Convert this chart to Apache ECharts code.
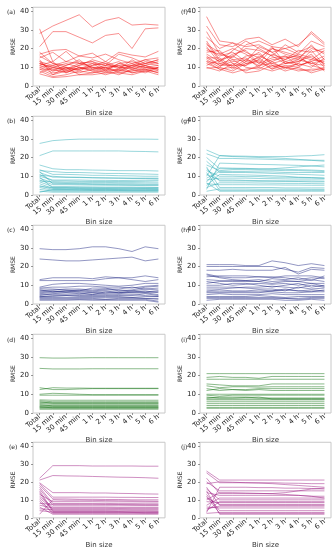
<!DOCTYPE html>
<html><head><meta charset="utf-8">
<script src="https://cdn.jsdelivr.net/npm/echarts@6/dist/echarts.min.js"></script>
<style>html,body{margin:0;padding:0;background:#fff}#c{width:334px;height:550px}</style>
</head><body><div id="c"></div>
<script>
const categories = ['Total','15 min','30 min','45 min','1 h','2 h','3 h','4 h','5 h','6 h'];
const yTicks = [0,10,20,30,40];
const panelLabels = ['(a)','(b)','(c)','(d)','(e)','(f)','(g)','(h)','(i)','(j)'];

const rmseA = [
 [28,32,35,38,31.5,35,36.5,32.5,33,32.5],
 [21,29,29,26,23,27,28,20,30.5,31],
 [30.5,13,18.5,12,13,11,17,15,12,14],
 [17,19,19.5,16,17.5,13,18,16.5,15.5,18.5],
 [15,18,13,16,15,17,14,12,14,15],
 [13,11,9,12,13,9,12,10,13,12],
 [12,10,12,10,9,11,10,9,11,13],
 [11,8,9,11,12,8,9,11,10,9],
 [10,7,8,9,10,9,8,10,8,8],
 [9,9,7,10,8,10,7,8,10,11],
 [14,6,8,7,9,7,9,7,9,7],
 [8,5,6,8,7,8,6,9,7,10],
 [6.5,4.5,5,6,6,7,7,6,8,6],
 [12,9,10,8,11,12,10,12,9,10],
 [16,12,11,13,10,10,11,11,12,11],
 [10,11,13,12,10,8,12,13,11,9],
 [7,10,9,9,11,13,10,10,12,14],
 [11,13,7,10,8,6,8,8,9,7],
 [18,12,10,9,12,11,13,9,11,8],
 [13,8,11,14,9,10,8,11,14,12],
 [9,6,10,6,7,9,11,7,8,10],
 [12,10,8,11,14,12,9,14,10,9]
];
const rmseB = [
 [27.5,29,29.5,29.8,29.8,29.8,29.8,29.8,29.8,29.7],
 [21,23.5,23.5,23.5,23.5,23.5,23.5,23.3,23.2,23],
 [16,14,13.5,13.5,13.3,13.2,13,13,13,12.8],
 [13.5,11,11,10.8,10.5,10.5,10.3,10.2,10,10],
 [13,12.5,12,12,11.8,11.5,11.5,11.3,11.2,11],
 [12,9.5,9.5,9.3,9.2,9,9,8.8,8.8,8.7],
 [11,7.5,7.5,7.3,7.2,7.2,7.2,7.2,7.3,7.5],
 [10,8,8,8,7.8,7.8,7.7,7.8,7.9,8],
 [9,6.5,6.3,6.2,6,6,6,6,5.8,5.8],
 [8,5.5,5.5,5.4,5.3,5.2,5.2,5.1,5,5],
 [7,4.5,4.5,4.4,4.3,4.2,4.2,4.2,4.1,4],
 [6,3.5,3.4,3.4,3.3,3.3,3.2,3.2,3.2,3.1],
 [5,3,3,3,2.9,2.9,2.9,2.8,2.8,2.8],
 [4,2.5,2.5,2.5,2.4,2.4,2.4,2.3,2.3,2.3],
 [3,2,2,2,2,2,2,2,2,2],
 [2,1.5,1.5,1.5,1.5,1.5,1.5,1.5,1.5,1.5],
 [12.5,6,6,5.8,5.7,5.6,5.5,5.5,5.4,5.4],
 [10.5,10,9.5,9.5,9.2,9.2,9,9,9,9],
 [9.5,3.8,3.8,3.7,3.6,3.6,3.6,3.6,3.5,3.5],
 [7.5,7,6.8,6.8,6.7,6.7,6.6,6.6,6.5,6.5],
 [1.5,2.8,2.8,2.7,2.7,2.7,2.6,2.6,2.6,2.6],
 [4.5,4,4,3.9,3.9,3.8,3.8,3.8,3.8,3.8]
];
const rmseC = [
 [29.5,29,29,29.5,30.5,30.5,29.5,28,30.5,29.5],
 [24,23.5,23,23,23.5,24,24.5,25,23,24],
 [13,14,14,14,13.5,14.5,14,14,15,14],
 [12.5,12.5,12.5,12.5,12.5,13.5,14,13,12,13],
 [9,10.5,11,11,10.5,10,9.5,10,11,11],
 [8.5,9,9,9.5,9.5,9,9,8.5,9.5,10],
 [7,7.5,8,8,7.5,8,8,9,8,7.5],
 [6.5,7,6.5,7,6.5,7,6,7,6.5,7],
 [5.5,6,6,5.5,6,5.5,5.5,6,6,5],
 [5,5,5,4.5,5,5,4.5,5,4.5,4],
 [4,4,4.5,4,4,4,4,3.5,4,4],
 [3.5,3.5,3.5,3.5,3.5,3.5,3.5,3.5,3,3],
 [3,3,3,3,3,2.5,3,3,3,2.5],
 [2.5,2.5,2.5,2.5,2.5,2.5,2.5,2.5,2.5,1.5],
 [4.5,5.5,6,6,5,6.5,6,6.5,7,6],
 [6,6.5,7,7.5,7,7.5,7.5,7,8,8.5],
 [2,2,2,2.2,2,2,2,2,2,1],
 [8,8,7.5,7,8.5,8.5,7,7.5,9,9.5],
 [3.8,4.5,4.5,5,4.5,4.5,5,4.5,5.5,4.5],
 [7.5,6.5,7,6.5,6,6,6.5,6,6,6.5]
];
const rmseD = [
 [29.5,29.3,29.3,29.4,29.5,29.5,29.5,29.5,29.5,29.5],
 [23.8,23.5,23.5,23.5,23.6,23.6,23.6,23.6,23.6,23.6],
 [13.5,12.5,12.5,12.8,13,13,13,13,13,13],
 [12.5,13.5,13.3,13.3,13.2,13.2,13.2,13.2,13.2,13.2],
 [10,10.5,10.3,10,9.8,9.8,9.8,9.8,9.8,9.8],
 [9.5,9.5,9.5,9.5,9.5,9.5,9.5,9.5,9.5,9.5],
 [7,6.8,6.8,6.8,6.8,6.8,6.8,6.8,6.8,6.8],
 [6.5,6,6,6,6,6,6,6,6,6],
 [5.5,5.5,5.5,5.5,5.5,5.5,5.5,5.5,5.5,5.5],
 [5,4.8,4.8,4.8,4.8,4.8,4.8,4.8,4.8,4.8],
 [4,4.2,4.2,4.2,4.2,4.2,4.2,4.2,4.2,4.2],
 [3.5,3.5,3.5,3.5,3.5,3.5,3.5,3.5,3.5,3.5],
 [3,3,3,3,3,3,3,3,3,3],
 [2.5,2.5,2.5,2.5,2.5,2.5,2.5,2.5,2.5,2.5],
 [2,2,2,2,2,2,2,2,2,2],
 [4.5,3.8,3.8,3.8,3.8,3.8,3.8,3.8,3.8,3.8],
 [6,5.2,5.2,5.2,5.2,5.2,5.2,5.2,5.2,5.2],
 [3.2,2.8,2.8,2.8,2.8,2.8,2.8,2.8,2.8,2.8]
];
const rmseE = [
 [22,29,29,29,28.8,28.8,28.8,28.8,28.7,28.7],
 [21,23.5,23.3,23.2,23,22.8,22.6,22.5,22.3,22],
 [19.5,14,14,14,13.8,13.8,13.6,13.5,13.3,13.2],
 [19,11.5,11.5,11.5,11.5,11.5,11.4,11.4,11.3,11.3],
 [18,10.5,10.5,10.3,10.3,10.2,10.2,10,10,10],
 [17,8,8,8,8,8,7.9,7.9,7.8,7.8],
 [16,7,7,7,7,7,7,6.9,6.9,6.9],
 [15,4,4,4,4,4,3.9,3.9,3.9,3.8],
 [14,3.5,3.5,3.5,3.5,3.5,3.5,3.4,3.4,3.4],
 [13,9,9,9,9,8.9,8.9,8.9,8.8,8.8],
 [12,6,6,6,6,6,5.9,5.9,5.9,5.9],
 [11,5,5,5,5,5,5,4.9,4.9,4.9],
 [10,3,3,3,3,3,3,3,2.9,2.9],
 [9,2.5,2.5,2.5,2.5,2.5,2.5,2.5,2.4,2.4],
 [8,7.5,7.5,7.5,7.5,7.4,7.4,7.4,7.3,7.3],
 [7,5.5,5.5,5.5,5.5,5.5,5.4,5.4,5.4,5.4],
 [6,2,2,2,2,2,2,2,2,2],
 [5,4.5,4.5,4.5,4.5,4.5,4.5,4.4,4.4,4.4],
 [4,3.2,3.2,3.2,3.2,3.2,3.2,3.1,3.1,3.1],
 [2,10,9.8,9.8,9.7,9.6,9.5,9.4,9.3,9.2]
];
const rmseF = [
 [37,24,23,21,22,18,20,17,24,21],
 [32,22,21,25,26,22,25,21,29,23],
 [29,17,15,22,24,21,20,22,28,22],
 [26,20,23,18,15,20,17,15,20,18],
 [24,14,16,20,19,16,22,18,21,17],
 [21,12,11,16,17,12,14,17,15,12],
 [20,16,18,13,21,18,13,11,13,16],
 [18,19,12,11,14,21,12,13,17,10],
 [17,13,17,19,12,15,16,14,12,14],
 [16,11,13,14,18,11,10,12,19,11],
 [15,15,10,8,11,14,15,16,11,9],
 [14,10,8,12,13,9,11,10,14,13],
 [13,12,14,10,9,13,9,12,10,15],
 [12,9,7,9,10,8,10,9,8,10],
 [11,14,9,13,15,10,12,13,16,12],
 [10,8,12,7,8,11,8,10,7,9],
 [19,17,20,17,12,20,18,16,14,19],
 [22,18,14,15,10,17,14,19,18,20],
 [15,11,11,11,16,13,16,11,13,8],
 [9.5,10,16,12,14,9,13,15,12,11],
 [23,13,19,24,20,16,12,14,22,14],
 [13,9,10,14,11,12,10,8,9,9]
];
const rmseG = [
 [24,21,20.8,20.7,20.5,20.5,20.5,20.8,21,21.5],
 [22,19.5,19.5,19.3,19.2,19,18.8,18.7,18.6,18.5],
 [20,14,14,14,13.8,14,14.5,15,15.5,16],
 [18,12,12,12,11.8,11.5,11.3,11,10.8,10.5],
 [16,13,13.5,13.5,13.3,13.2,13,13,12.8,12.5],
 [15,4,4,4,4,4,3.8,3.8,3.8,3.8],
 [14,7.5,7.5,7.5,7.3,7.3,7.2,7.2,7,7],
 [13,10,10,9.8,9.8,9.5,9.5,9.3,9.2,9],
 [12,2.5,2.5,2.5,2.5,2.5,2.5,2.5,2.5,2.5],
 [10,21,20.5,20.3,20,19.8,19.5,19,18.5,18],
 [8,9,9,9,8.8,8.7,8.6,8.5,8.5,8.5],
 [7,14.5,14.3,14.2,14,13.8,13.7,13.5,13.3,13],
 [6,5.5,5.5,5.5,5.4,5.4,5.3,5.3,5.2,5.2],
 [5,11,10.8,10.7,10.5,10.3,10,9.5,9.3,9],
 [4,6.5,6.5,6.5,6.4,6.3,6.2,6.2,6.1,6],
 [3,17,16.8,16.5,16.3,16.2,16,15.8,15.5,15],
 [2,3.2,3.2,3.2,3.1,3.1,3.1,3.1,3,3],
 [11,8,8,7.8,7.7,7.6,7.6,7.5,7.5,7.4],
 [9,12.5,12.5,12.5,12.3,12.3,12,12,12,12],
 [6.5,2,2,2,2,2,2,2,2,2]
];
const rmseH = [
 [21,21,21,20.5,20.5,23,22,20.5,21.5,20.5],
 [20,20,20,20,20,20,18.5,17,19.5,19],
 [18,18,18.5,18,18,18,19.5,16,18.5,18],
 [15.5,14,13,12.5,12,13.5,13,14,12.5,15],
 [14.5,15,15,15,14.5,14,15,15,15,14],
 [13,12.5,12.5,12.5,13,12,12.5,12,13,12],
 [12,11,10,10.5,11,10.5,11,10,11,9.5],
 [10,10,11,11,10,9,10,11,9,10],
 [9,9,9,8.5,8,8,7,9,8,8.5],
 [7,7.5,7,7,7.5,7,7.5,7,7.5,7],
 [6.5,6.5,6.5,6.5,6.5,6.5,6,6,6.5,6.5],
 [5,5.5,5,5,5,5.5,5,5,5,5],
 [4,4,4,4,4.5,4,3.5,4,4,4],
 [3,3,3,3,3,3,3,2.5,3,3],
 [2,2.5,2.5,2.5,2.5,2.5,2,2,2.5,2],
 [11,12,12,12,12,11,12,12,11,11],
 [8,8,8.5,9,9,9.5,9,8.5,10,9],
 [16,14.5,14,14,14.5,14.5,14,13,14,13.5],
 [6,6,6,6,6,7,8,7,6.5,7.5],
 [3.5,3.5,3.5,3.5,3.5,3.5,3,3,3.5,3.5]
];
const rmseI = [
 [21,21,21,21,21,21,21,21,21,21],
 [19,19.5,19,19,18.5,19.5,19.5,19.5,19.5,19.5],
 [18,18,18,18,18,18,18,18,18,18],
 [15.5,15,14.5,14.5,14.5,15.5,15.5,15.5,15.5,15.5],
 [14.5,13.5,14,14,13.8,14,14,14,14,14],
 [12,13,12.5,12.5,13,13,13,13,13,13],
 [10,10,10,10,10,10,10,10,10,10],
 [9.5,9,9.5,9.5,9.5,9.5,9.5,9.5,9.5,9.5],
 [8,8.5,8.5,8.5,8,8,8,8,8,8],
 [7.5,7.5,7.5,7.5,7.5,7.5,7.5,7.5,7.5,7.5],
 [7,7,7,7,7,7,7,7,7,7],
 [6,6,6,6,6,6,6,6,6,6],
 [5,5,5,5,5,5,5,5,5,5],
 [4,4,4,4,4,4,4,4,4,4],
 [3,3,3,3,3,3,3,3,3,3],
 [2.5,2.5,2.5,2.5,2.5,2.5,2.5,2.5,2.5,2.5],
 [13,12,12.5,12,12.5,12,12,12,12,12],
 [8.5,8,8,8.3,8.5,7.5,7.5,7.5,7.5,7.5]
];
const rmseJ = [
 [26,21,21,21,21,21,21,21,21,21],
 [25,19.5,19.5,19.5,19.5,19.5,19.3,19.2,19,19],
 [22,13.5,13.5,13.5,13.5,13.5,14,15,16,16.5],
 [20,15,15,15,15,15,15,15,15,15],
 [19,20,19.8,19.5,19.3,19,18.5,18,17.5,17],
 [17,7,7,7,7,7,7,7,7,7],
 [16,10,10,10,10,10,10,10,10,10],
 [14,12.5,12.5,12.5,12.5,12.5,12.5,12.5,12,12],
 [13,4,4,4,4,4,4,4,4,4],
 [12,2.5,2.5,2.5,2.5,2.5,2.5,2.5,2.5,2.5],
 [10,14,14,13.8,13.6,13.4,13,12.5,12,11],
 [9,8.5,8.5,8.5,8.5,8.5,8.5,8.5,8.5,8.5],
 [7,11,11,11,11,11,11,11,11,11],
 [6,5.5,5.5,5.5,5.5,5.5,5.5,5.5,5.5,5.5],
 [5,6.5,6.5,6.5,6.5,6.5,6.5,6.5,6.5,6.5],
 [4,9,9,9,9,9,9,9,9,9],
 [3,17,17,17,16.8,16.8,16.5,16.5,16.3,16],
 [2.5,3,3,3,3,3,3,3,3,3],
 [11,7.5,7.5,7.5,7.5,7.5,7.5,7.5,7.5,7.5],
 [15,2,2,2,2,2,2,2,2,2]
];

const panels = [rmseA, rmseB, rmseC, rmseD, rmseE, rmseF, rmseG, rmseH, rmseI, rmseJ];
const colors = ['#f01818','#2aaab5','#1c2480','#0a6e0a','#99157f'];
const FONT = 'DejaVu Sans';

const chart = echarts.init(document.getElementById('c'), null, {renderer:'canvas'});
const grids = [], xAxes = [], yAxes = [], series = [], titles = [];
const rowZero = [86, 195, 304, 413, 521];
const H = 78.75;
const colLeft = [33, 200];
const colWidth = [132, 131];
// left column (a)-(e), right column (f)-(j)
const labelPos = [[2,4],[2,113],[2,222],[2,332],[4,439],[176,4],[176,113],[176,222],[176,332],[176,439]];

panels.forEach((lines, p) => {
  const col = p < 5 ? 0 : 1;
  const row = p % 5;
  grids.push({left: colLeft[col], width: colWidth[col], top: rowZero[row]-H, height: H,
    show: true, borderColor: '#c8c8c8', borderWidth: 1, backgroundColor: '#fff'});
  xAxes.push({type:'category', gridIndex:p, data:categories, boundaryGap:true,
    name:'Bin size', nameLocation:'middle', nameGap:19,
    nameTextStyle:{fontFamily:FONT, fontSize:7, color:'#333'},
    axisLine:{show:false}, axisTick:{show:true, alignWithLabel:true, length:2, lineStyle:{color:'#555', width:0.6}},
    axisLabel:{rotate:40, interval:0, hideOverlap:false, fontFamily:FONT, fontSize:7, color:'#222', margin:3},
    splitLine:{show:false}});
  yAxes.push({type:'value', gridIndex:p, min:0, max:42, interval:10,
    name:'RMSE', nameLocation:'middle', nameGap:14,
    nameTextStyle:{fontFamily:FONT, fontSize:6, color:'#333'},
    axisLine:{show:false}, axisTick:{show:true, length:2, lineStyle:{color:'#555', width:0.6}},
    axisLabel:{fontFamily:FONT, fontSize:7, color:'#222', margin:4,
      formatter: v => yTicks.includes(v) ? String(v) : ''},
    splitLine:{show:false}});
  titles.push({text: panelLabels[p], left: labelPos[p][0], top: labelPos[p][1],
    textStyle:{fontFamily:FONT, fontSize:6, fontWeight:'normal', color:'#222'}});
  lines.forEach(vals => {
    series.push({type:'line', xAxisIndex:p, yAxisIndex:p, data:vals, symbol:'none', silent:true,
      lineStyle:{color: colors[row], width:0.8, opacity:0.6}});
  });
});

chart.setOption({animation:false, backgroundColor:'#fff', title:titles, grid:grids, xAxis:xAxes, yAxis:yAxes, series});
</script></body></html>
